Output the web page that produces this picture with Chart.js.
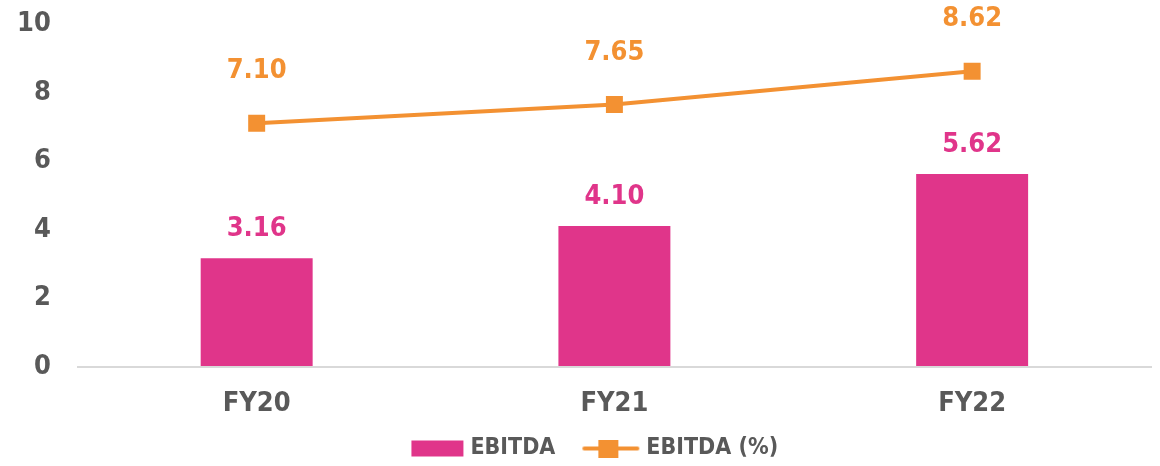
<!DOCTYPE html>
<html>
<head>
<meta charset="utf-8">
<script src="https://cdn.jsdelivr.net/npm/chart.js@4"></script>
<style>
  html, body { margin: 0; padding: 0; background: #fff; }
  #wrap { width: 1160px; height: 466px; }
</style>
</head>
<body>
<div id="wrap"><canvas id="chart"></canvas></div>
<script>
// 数据
const categories = ['FY20', 'FY21', 'FY22'];
const ebitda = [3.16, 4.10, 5.62];
const ebitdaPct = [7.10, 7.65, 8.62];
const yTicks = [0, 2, 4, 6, 8, 10];

const PINK = '#E0358A';
const ORANGE = '#F39132';
const GREY = '#595959';
const FONT = '"DejaVu Sans Condensed", "DejaVu Sans", sans-serif';
const WEIGHT = 'bold condensed';

// 图例图标（左侧留白用来拉开图例间距）
const ICON_W = 83;
function barIcon() {
    const c = document.createElement('canvas');
    c.width = ICON_W; c.height = 18;
    const g = c.getContext('2d');
    g.fillStyle = PINK;
    g.fillRect(ICON_W - 53, 1, 52, 16);
    return c;
}
function lineIcon() {
    const c = document.createElement('canvas');
    c.width = ICON_W; c.height = 18;
    const g = c.getContext('2d');
    const x0 = ICON_W - 58;
    g.strokeStyle = ORANGE;
    g.lineWidth = 4;
    g.lineCap = 'round';
    g.beginPath();
    g.moveTo(x0 + 2, 9); g.lineTo(ICON_W - 3, 9);
    g.stroke();
    g.fillStyle = ORANGE;
    g.fillRect(x0 + 16, 0, 20, 18);
    return c;
}

// 数据标签
const valueLabels = {
    id: 'valueLabels',
    afterDatasetsDraw(chart) {
        const ctx = chart.ctx;
        ctx.save();
        ctx.font = 'normal ' + WEIGHT + ' 27px ' + FONT;
        ctx.textAlign = 'center';
        ctx.textBaseline = 'middle';
        chart.data.datasets.forEach((ds, i) => {
            const meta = chart.getDatasetMeta(i);
            meta.data.forEach((el, j) => {
                const v = ds.data[j].toFixed(2);
                if (ds.type === 'line') {
                    ctx.fillStyle = ORANGE;
                    ctx.fillText(v, el.x, el.y - 52);
                } else {
                    ctx.fillStyle = PINK;
                    ctx.fillText(v, el.x, el.y - 29);
                }
            });
        });
        ctx.restore();
    }
};

new Chart(document.getElementById('chart'), {
    data: {
        labels: categories,
        datasets: [
            {
                type: 'line',
                label: 'EBITDA (%)',
                data: ebitdaPct,
                borderColor: ORANGE,
                backgroundColor: ORANGE,
                borderWidth: 4,
                pointStyle: 'rect',
                pointRadius: 12,
                pointBackgroundColor: ORANGE,
                pointBorderWidth: 0,
                tension: 0,
                order: 0
            },
            {
                type: 'bar',
                label: 'EBITDA',
                data: ebitda,
                backgroundColor: PINK,
                categoryPercentage: 1,
                barPercentage: 0.313,
                order: 1
            }
        ]
    },
    options: {
        responsive: true,
        maintainAspectRatio: false,
        animation: false,
        layout: { autoPadding: false, padding: { left: 14, right: 9, top: 24, bottom: -4 } },
        scales: {
            x: {
                grid: { display: true, drawOnChartArea: false, drawTicks: true, tickLength: 11, color: 'transparent' },
                border: { display: true, color: '#D9D9D9', width: 2 },
                ticks: { color: GREY, font: { family: FONT, size: 27, weight: WEIGHT, lineHeight: 1 }, padding: 12.5 }
            },
            y: {
                min: 0,
                max: 10,
                afterBuildTicks(axis) { axis.ticks = yTicks.map(v => ({ value: v })); },
                grid: { display: true, drawOnChartArea: false, drawTicks: true, tickLength: 24, color: 'transparent' },
                border: { display: false },
                ticks: { color: GREY, font: { family: FONT, size: 27, weight: WEIGHT, lineHeight: 1 }, padding: 3 }
            }
        },
        plugins: {
            tooltip: { enabled: false },
            legend: {
                position: 'bottom',
                reverse: true,
                labels: {
                    color: GREY,
                    font: { family: FONT, size: 23, weight: WEIGHT },
                    usePointStyle: true,
                    pointStyleWidth: ICON_W - 11,
                    padding: 7.5,
                    generateLabels(chart) {
                        return chart.data.datasets.map((ds, i) => ({
                            text: ds.label,
                            pointStyle: ds.type === 'line' ? lineIcon() : barIcon(),
                            fontColor: GREY,
                            datasetIndex: i,
                            lineWidth: 0,
                            hidden: false
                        }));
                    }
                }
            }
        }
    },
    plugins: [valueLabels]
});
</script>
</body>
</html>
